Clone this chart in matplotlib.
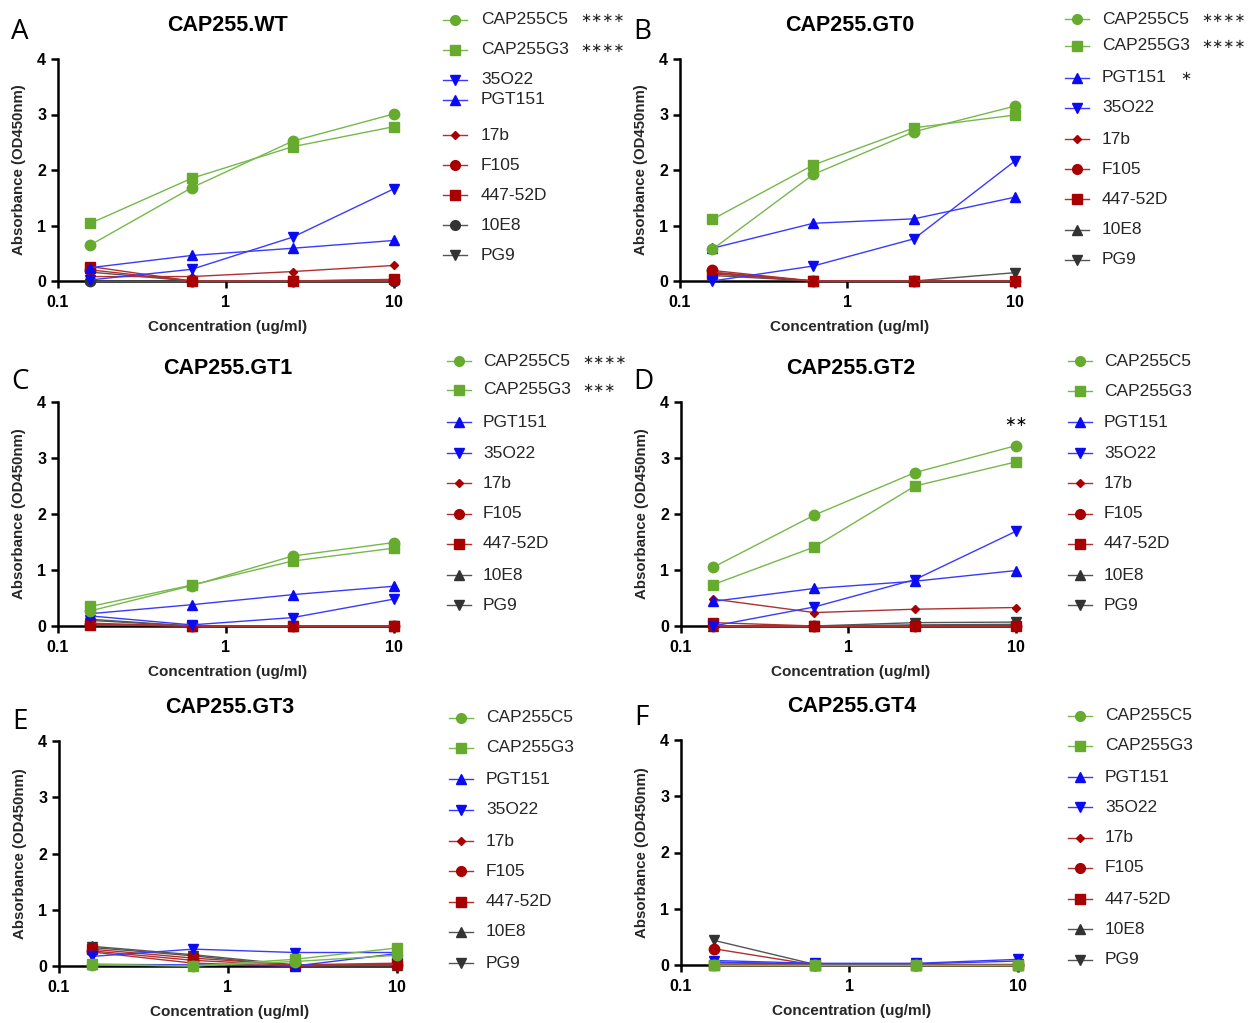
import matplotlib
matplotlib.use("Agg")
import matplotlib.pyplot as plt
from matplotlib.lines import Line2D
from matplotlib.ticker import FixedLocator, NullLocator

W, H = 1252, 1023

conc = [0.156, 0.625, 2.5, 10]

# absorbance values (OD450nm) per panel, one list per antibody
wt = {
    'CAP255C5': [0.65, 1.68, 2.52, 3.01],
    'CAP255G3': [1.04, 1.85, 2.42, 2.78],
    '35O22': [0.02, 0.21, 0.79, 1.66],
    'PGT151': [0.24, 0.46, 0.59, 0.73],
    '17b': [0.08, 0.08, 0.17, 0.28],
    'F105': [0.20, 0.0, 0.0, 0.01],
    '447-52D': [0.26, 0.0, 0.0, 0.03],
    '10E8': [0.0, 0.0, 0.0, 0.0],
    'PG9': [0.16, 0.0, 0.0, 0.02],
}
gt0 = {
    'CAP255C5': [0.57, 1.92, 2.69, 3.15],
    'CAP255G3': [1.11, 2.09, 2.76, 2.99],
    'PGT151': [0.59, 1.04, 1.12, 1.51],
    '35O22': [0.0, 0.27, 0.76, 2.16],
    '17b': [0.16, 0.0, 0.0, 0.0],
    'F105': [0.19, 0.0, 0.0, 0.0],
    '447-52D': [0.13, 0.0, 0.0, 0.0],
    '10E8': [0.15, 0.0, 0.0, 0.0],
    'PG9': [0.10, 0.0, 0.0, 0.15],
}
gt1 = {
    'CAP255C5': [0.27, 0.72, 1.25, 1.49],
    'CAP255G3': [0.35, 0.73, 1.16, 1.39],
    'PGT151': [0.22, 0.38, 0.56, 0.71],
    '35O22': [0.18, 0.02, 0.15, 0.48],
    '17b': [0.05, 0.0, 0.0, 0.0],
    'F105': [0.03, 0.0, 0.0, 0.0],
    '447-52D': [0.02, 0.0, 0.0, 0.0],
    '10E8': [0.12, 0.0, 0.0, 0.0],
    'PG9': [0.10, 0.0, 0.0, 0.0],
}
gt2 = {
    'CAP255C5': [1.05, 1.98, 2.74, 3.22],
    'CAP255G3': [0.74, 1.41, 2.50, 2.93],
    'PGT151': [0.44, 0.67, 0.80, 0.99],
    '35O22': [0.0, 0.34, 0.83, 1.69],
    '17b': [0.48, 0.24, 0.30, 0.33],
    'F105': [0.0, 0.0, 0.0, 0.0],
    '447-52D': [0.06, 0.0, 0.0, 0.0],
    '10E8': [0.0, 0.0, 0.02, 0.03],
    'PG9': [0.0, 0.0, 0.06, 0.07],
}
gt3 = {
    'CAP255C5': [0.02, 0.0, 0.08, 0.19],
    'CAP255G3': [0.03, 0.0, 0.12, 0.32],
    'PGT151': [0.03, 0.02, 0.0, 0.22],
    '35O22': [0.17, 0.30, 0.24, 0.24],
    '17b': [0.25, 0.05, 0.0, 0.03],
    'F105': [0.27, 0.10, 0.01, 0.02],
    '447-52D': [0.30, 0.14, 0.02, 0.05],
    '10E8': [0.35, 0.20, 0.02, 0.01],
    'PG9': [0.33, 0.18, 0.0, 0.0],
}
gt4 = {
    'CAP255C5': [0.0, 0.0, 0.0, 0.0],
    'CAP255G3': [0.0, 0.0, 0.0, 0.0],
    'PGT151': [0.05, 0.02, 0.02, 0.07],
    '35O22': [0.08, 0.03, 0.03, 0.10],
    '17b': [0.02, 0.0, 0.0, 0.0],
    'F105': [0.29, 0.0, 0.0, 0.0],
    '447-52D': [0.0, 0.0, 0.0, 0.0],
    '10E8': [0.05, 0.0, 0.0, 0.0],
    'PG9': [0.44, 0.01, 0.01, 0.01],
}

titles = ['CAP255.WT', 'CAP255.GT0', 'CAP255.GT1', 'CAP255.GT2', 'CAP255.GT3', 'CAP255.GT4']
letters = ['A', 'B', 'C', 'D', 'E', 'F']
panel_data = [wt, gt0, gt1, gt2, gt3, gt4]
stars = [
    {'CAP255C5': 4, 'CAP255G3': 4},
    {'CAP255C5': 4, 'CAP255G3': 4, 'PGT151': 1},
    {'CAP255C5': 4, 'CAP255G3': 3},
    {}, {}, {},
]

GREEN, BLUE, RED, GRAY = '#66AA2E', '#0A0AF5', '#A80000', '#333333'
style = {
    'CAP255C5': (GREEN, 'o', 7.5),
    'CAP255G3': (GREEN, 's', 7),
    'PGT151': (BLUE, '^', 7.5),
    '35O22': (BLUE, 'v', 7.5),
    '17b': (RED, 'D', 4.5),
    'F105': (RED, 'o', 7.5),
    '447-52D': (RED, 's', 7),
    '10E8': (GRAY, '^', 7.5),
    'PG9': (GRAY, 'v', 7.5),
}
line_col = {GREEN: '#77B84A', BLUE: '#3A3AFF', RED: '#B03030', GRAY: '#555555'}

# layout in pixels: axes box (left, top, right, bottom), legend (handle x, text x, y rows)
boxes = [(58, 59, 398, 281), (680, 59, 1019, 281),
         (58, 402, 398, 626), (681, 402, 1020, 626),
         (59, 741, 401, 966), (681, 740, 1022, 965)]
leg_x = [(443, 481), (1065, 1102), (447, 483), (1068, 1104), (449, 486), (1068, 1105)]
leg_y = [
    [20, 50, 80, 100, 135, 165, 195, 225, 255],
    [19, 46, 78, 108, 139, 169, 199, 230, 260],
    [361, 390, 422, 453, 483, 514, 544, 575, 605],
    [361, 391, 422, 453, 483, 514, 544, 575, 605],
    [718, 748, 779, 810, 841, 871, 902, 932, 963],
    [716, 746, 777, 807, 838, 868, 899, 929, 960],
]
letter_pos = [(20, 32), (642, 32), (20, 382), (643, 382), (20, 722), (641, 718)]

plt.rcParams['font.family'] = ['Liberation Sans', 'DejaVu Sans']

fig = plt.figure(figsize=(W / 100, H / 100), dpi=100)


def fx(x):
    return x / W


def fy(y):
    return 1 - y / H


for i, data in enumerate(panel_data):
    l, t, r, b = boxes[i]
    ax = fig.add_axes([fx(l), fy(b), fx(r - l), (b - t) / H])
    names = list(data.keys())
    for name in reversed(names):
        col, mk, ms = style[name]
        if i == 0 and name == '10E8':
            mk = 'o'
        ax.plot(conc, data[name], color=line_col[col], lw=1.0, marker=mk,
                markersize=ms, markerfacecolor=col, markeredgecolor=col,
                clip_on=False, zorder=3)
    ax.set_xscale('log')
    ax.set_xlim(0.1, 10.6)
    ax.set_ylim(0, 4)
    ax.xaxis.set_major_locator(FixedLocator([0.1, 1, 10]))
    ax.xaxis.set_minor_locator(NullLocator())
    ax.set_xticklabels(['0.1', '1', '10'])
    ax.set_yticks([0, 1, 2, 3, 4])
    for s in ['top', 'right']:
        ax.spines[s].set_visible(False)
    for s in ['left', 'bottom']:
        ax.spines[s].set_linewidth(1.8)
        ax.spines[s].set_zorder(2)
    ax.tick_params(width=1.8, length=5, labelsize=11.5)
    ax.tick_params(axis='x', pad=5)
    for lab in ax.get_xticklabels() + ax.get_yticklabels():
        lab.set_fontweight('bold')
    ax.set_xlabel('Concentration (ug/ml)', fontsize=11, fontweight='bold',
                  color='#262626', labelpad=7)
    ax.set_ylabel('Absorbance (OD450nm)', fontsize=10.8, fontweight='bold',
                  color='#262626', labelpad=8)
    ax.set_title(titles[i], fontsize=15.5, fontweight='bold', pad=20)
    lx, ly = letter_pos[i]
    fig.text(fx(lx), fy(ly), letters[i], fontsize=20, ha='center', va='center',
             family=['Open Sans', 'DejaVu Sans'])
    if i == 3:
        ax.annotate('\u2217\u2217', (10, 3.22), xytext=(0, 17), textcoords='offset points',
                    ha='center', va='center', fontsize=10, annotation_clip=False,
                    family='DejaVu Sans')

    # legend
    hx, tx = leg_x[i]
    for name, y in zip(names, leg_y[i]):
        col, mk, ms = style[name]
        if i == 0 and name == '10E8':
            mk = 'o'
        fig.add_artist(Line2D([fx(hx), fx(hx + 12), fx(hx + 24)], [fy(y)] * 3,
                              transform=fig.transFigure, color=line_col[col],
                              lw=1.0, marker=mk, markevery=[1], markersize=ms - 0.5,
                              markerfacecolor=col, markeredgecolor=col))
        fig.text(fx(tx), fy(y), name, fontsize=12.5, color='#262626',
                 ha='left', va='center')
        n = stars[i].get(name)
        if n:
            sx = tx + (99 if name.startswith('CAP') else 78)
            fig.text(fx(sx), fy(y - 1), '\u2217' * n, fontsize=9.5, color='#262626',
                     ha='left', va='center', family='DejaVu Sans')

fig.savefig('out.png', dpi=100)
